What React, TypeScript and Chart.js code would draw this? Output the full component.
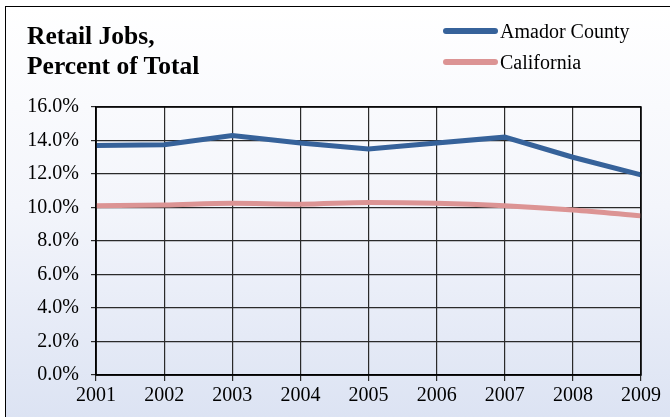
import React, { useEffect, useRef } from "react";
import { Chart, registerables } from "chart.js";

Chart.register(...registerables);

const years = ["2001", "2002", "2003", "2004", "2005", "2006", "2007", "2008", "2009"];
const amadorCounty = [13.7, 13.75, 14.3, 13.85, 13.5, 13.85, 14.2, 13.0, 11.95];
const california = [10.1, 10.15, 10.25, 10.2, 10.3, 10.25, 10.1, 9.85, 9.5];
const titleLines = ["Retail Jobs,", "Percent of Total"];
const seriesNames = ["Amador County", "California"];
const seriesColors = ["#36629a", "#dc9494"];

const FONT = "'Liberation Serif', 'Times New Roman', serif";

const frameBorder = {
  id: "frameBorder",
  afterDatasetsDraw(chart: any) {
    const { ctx, chartArea } = chart;
    ctx.save();
    ctx.strokeStyle = "#000";
    ctx.lineWidth = 1.5;
    ctx.strokeRect(chartArea.left, chartArea.top, chartArea.right - chartArea.left, chartArea.bottom - chartArea.top);
    ctx.restore();
  },
};

export default function App() {
  const ref = useRef<HTMLCanvasElement>(null);
  useEffect(() => {
    document.body.style.margin = "0";
    const chart = new Chart(ref.current!, {
      type: "line",
      data: {
        labels: years,
        datasets: [
          {
            label: seriesNames[0],
            data: amadorCounty,
            borderColor: seriesColors[0],
            backgroundColor: seriesColors[0],
            borderWidth: 5,
            pointRadius: 0,
            tension: 0,
          },
          {
            label: seriesNames[1],
            data: california,
            borderColor: seriesColors[1],
            backgroundColor: seriesColors[1],
            borderWidth: 5,
            pointRadius: 0,
            cubicInterpolationMode: "monotone",
          },
        ],
      },
      options: {
        animation: false,
        responsive: false,
        maintainAspectRatio: false,
        layout: { padding: { left: 0, right: 29, top: 107, bottom: 0 } },
        plugins: { legend: { display: false }, title: { display: false }, tooltip: { enabled: false } },
        scales: {
          x: {
            offset: false,
            grid: { color: "#2a2a2a", lineWidth: 1.2, tickLength: 6, drawTicks: true },
            border: { color: "#000", width: 1.5 },
            ticks: { color: "#000", font: { family: FONT, size: 20 }, padding: 3, maxRotation: 0, autoSkip: false },
            afterFit: (s: any) => { s.height = 42; },
          },
          y: {
            min: 0,
            max: 16,
            grid: { color: "#2a2a2a", lineWidth: 1.2, tickLength: 5 },
            border: { color: "#000", width: 1.5 },
            ticks: {
              stepSize: 2,
              color: "#000",
              font: { family: FONT, size: 20 },
              padding: 12,
              callback: (v: any) => Number(v).toFixed(1) + "%",
            },
            afterFit: (s: any) => { s.width = 96; },
          },
        },
      },
      plugins: [frameBorder],
    });
    return () => chart.destroy();
  }, []);

  return (
    <div style={{ position: "relative", width: 670, height: 417, overflow: "hidden", background: "#fff" }}>
      <div
        style={{
          position: "absolute",
          left: 5,
          top: 6,
          width: 700,
          height: 450,
          border: "1px solid #000",
          background: "linear-gradient(to bottom, #ffffff 0px, #f3f5fb 200px, #dce3f3 411px)",
        }}
      />
      <canvas ref={ref} width={670} height={417} style={{ position: "absolute", left: 0, top: 0 }} />
      <div
        style={{
          position: "absolute",
          left: 27,
          top: 21,
          fontFamily: FONT,
          fontWeight: "bold",
          fontSize: 25.5,
          lineHeight: "30px",
          color: "#000",
        }}
      >
        {titleLines.map((t) => (
          <div key={t}>{t}</div>
        ))}
      </div>
      {seriesNames.map((name, i) => (
        <div
          key={name}
          style={{
            position: "absolute",
            left: 443,
            top: 19 + i * 31,
            height: 24,
            display: "flex",
            alignItems: "center",
            fontFamily: FONT,
            fontSize: 20,
            color: "#000",
          }}
        >
          <div style={{ width: 55, height: 6, borderRadius: 3, background: seriesColors[i], marginRight: 2 }} />
          <span>{name}</span>
        </div>
      ))}
    </div>
  );
}
